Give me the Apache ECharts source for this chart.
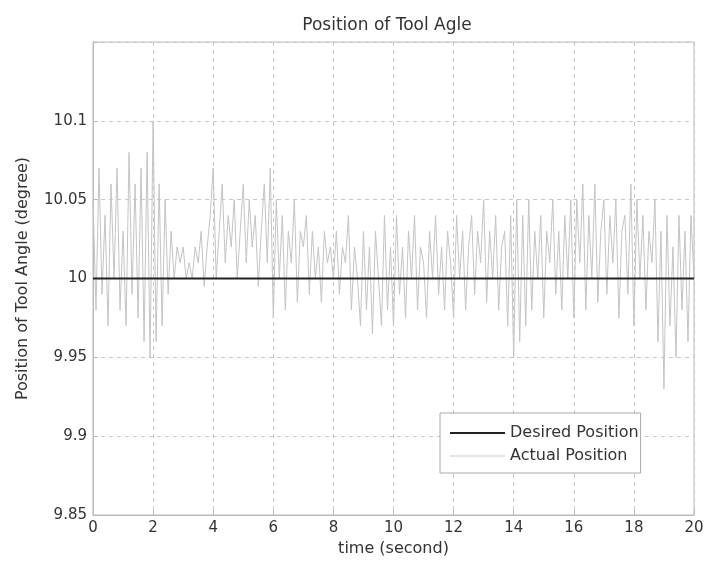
<!DOCTYPE html>
<html>
<head>
<meta charset="utf-8">
<script src="https://cdn.jsdelivr.net/npm/echarts@6/dist/echarts.min.js"></script>
<style>html,body{margin:0;padding:0;background:#fff;}#c{width:704px;height:562px;}</style>
</head>
<body>
<div id="c"></div>
<script>
var timeStep = 0.1;
var xTicks = [0, 2, 4, 6, 8, 10, 12, 14, 16, 18, 20];
var yTicks = [9.85, 9.9, 9.95, 10, 10.05, 10.1];
var desiredPos = 10;
var actualPos = [
  10.05, 9.98, 10.07, 9.99, 10.04, 9.97, 10.06, 10.0, 10.07, 9.98,
  10.03, 9.97, 10.08, 9.99, 10.06, 9.975, 10.07, 9.96, 10.08, 9.95,
  10.10, 9.96, 10.06, 9.97, 10.05, 9.99,
  10.03, 10.0, 10.02, 10.01, 10.02, 10.0, 10.01, 10.0, 10.02, 10.01,
  10.03, 9.995, 10.02, 10.04,
  10.07, 10.0, 10.03, 10.06, 10.01, 10.04, 10.02, 10.05, 10.0, 10.03,
  10.06, 10.01, 10.05, 10.02, 10.04, 9.995, 10.03, 10.06, 10.01, 10.07,
  9.975, 10.05, 10.0, 10.04, 9.98, 10.03, 10.01, 10.05, 9.985, 10.03,
  10.02, 10.04, 9.99, 10.03, 10.0, 10.02, 9.985, 10.03, 10.01, 10.02,
  10.0, 10.03, 9.99, 10.02, 10.01, 10.04, 9.98, 10.02, 10.0, 9.97,
  10.03, 9.98, 10.02, 9.965, 10.03, 10.0, 9.97, 10.04, 9.98, 10.02,
  9.97, 10.04, 9.99, 10.02, 9.975, 10.03, 10.0, 10.04, 9.98, 10.02,
  10.01, 9.975, 10.03, 10.0, 10.04, 9.99, 10.02, 9.98, 10.03, 10.01,
  9.975, 10.04, 10.0, 10.03, 9.98, 10.02, 10.04, 9.99, 10.03, 10.01,
  10.05, 9.985, 10.03, 10.0, 10.04, 9.98, 10.02, 10.03, 9.97, 10.04,
  9.95, 10.05, 9.96, 10.04, 9.97, 10.05, 9.98, 10.03, 10.0, 10.04,
  9.975, 10.03, 10.01, 10.05, 9.99, 10.03, 9.98, 10.04, 10.0, 10.05,
  9.975, 10.05, 10.01, 10.06, 9.98, 10.04, 10.0, 10.06, 9.985, 10.03,
  10.05, 9.99, 10.04, 10.01, 10.05, 9.975, 10.03, 10.04, 9.99, 10.06,
  9.97, 10.05, 10.0, 10.04, 9.98, 10.03, 10.01, 10.05, 9.96, 10.03,
  9.93, 10.04, 9.97, 10.02, 9.95, 10.04, 9.98, 10.03, 9.96, 10.04, 10.0
];

var actualData = actualPos.map(function (v, i) { return [+(i * timeStep).toFixed(2), v]; });
var desiredData = [[xTicks[0], desiredPos], [xTicks[xTicks.length - 1], desiredPos]];

var font = 'DejaVu Sans, Verdana, sans-serif';
var chart = echarts.init(document.getElementById('c'), null, {renderer: 'canvas'});
chart.setOption({
  backgroundColor: '#fff',
  animation: false,
  title: {
    text: 'Position of Tool Agle',
    left: 382, top: 12, textAlign: 'center',
    textStyle: {fontFamily: font, fontSize: 17, fontWeight: 'normal', color: '#333'}
  },
  grid: {left: 93, right: 10, top: 42, bottom: 47, show: true, borderColor: '#bbb', borderWidth: 1,
    backgroundColor: '#fff', containLabel: false, outerBoundsMode: 'none'},
  legend: {
    orient: 'vertical',
    left: 440, top: 413,
    width: 202,
    padding: [12, 2, 9, 10],
    itemGap: 7,
    itemWidth: 55, itemHeight: 14,
    backgroundColor: '#fff',
    borderColor: '#aaa', borderWidth: 1,
    textStyle: {fontFamily: font, fontSize: 16, lineHeight: 16, color: '#333'},
    data: [
      {name: 'Desired Position', icon: 'path://M0,6L55,6L55,8L0,8Z', itemStyle: {color: '#222'}},
      {name: 'Actual Position', icon: 'path://M0,6.5L55,6.5L55,7.5L0,7.5Z', itemStyle: {color: '#ccc'}}
    ]
  },
  xAxis: {
    type: 'value', min: 0, max: 20, interval: 2,
    name: 'time (second)', nameLocation: 'middle', nameGap: 24,
    nameTextStyle: {fontFamily: font, fontSize: 16, color: '#333'},
    axisLine: {show: true, lineStyle: {color: '#bbb'}},
    axisTick: {show: true, inside: true, length: 5, lineStyle: {color: '#bbb'}},
    axisLabel: {fontFamily: font, fontSize: 15, color: '#333', margin: 6},
    splitLine: {show: true, lineStyle: {color: '#c8c8c8', type: [4, 4]}}
  },
  yAxis: {
    type: 'value', min: 9.85, max: 10.15, interval: 0.05,
    name: 'Position of Tool Angle (degree)', nameLocation: 'middle', nameGap: 62,
    nameTextStyle: {fontFamily: font, fontSize: 16, color: '#333'},
    axisLine: {show: true, lineStyle: {color: '#bbb'}},
    axisTick: {show: true, inside: true, length: 5, lineStyle: {color: '#bbb'}},
    axisLabel: {fontFamily: font, fontSize: 15, color: '#333', margin: 6,
      formatter: function (v) {
        if (v > 10.14) return '';
        return String(+v.toFixed(2));
      }},
    splitLine: {show: true, lineStyle: {color: '#c8c8c8', type: [4, 4]}}
  },
  series: [
    {name: 'Actual Position', type: 'line', data: actualData, symbol: 'none', z: 2,
      lineStyle: {color: '#c4c4c4', width: 1}, itemStyle: {color: '#ccc'}},
    {name: 'Desired Position', type: 'line', data: desiredData, symbol: 'none', z: 3,
      lineStyle: {color: '#222', width: 2}, itemStyle: {color: '#222'}}
  ]
});
</script>
</body>
</html>
